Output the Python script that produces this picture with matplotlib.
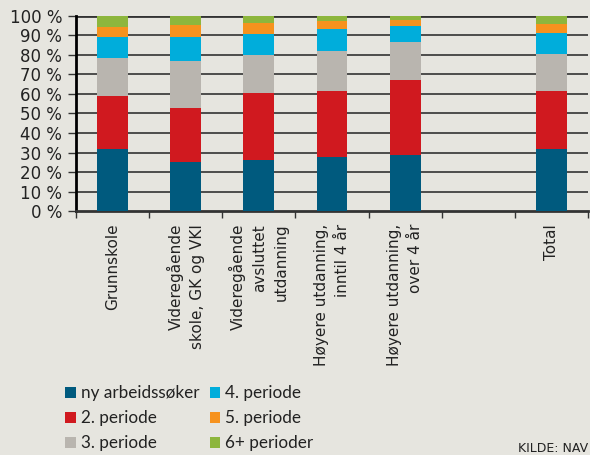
import matplotlib.pyplot as plt
from matplotlib.font_manager import FontProperties
import numpy as np

# kategorier (tom plass mellom siste kategori og Total)
kategorier = ['Grunnskole', 'Videregående\nskole, GK og VKI', 'Videregående\navsluttet\nutdanning',
              'Høyere utdanning,\ninntil 4 år', 'Høyere utdanning,\nover 4 år', '', 'Total']

ny_arbeidssoker = [31.9, 25.4, 26.4, 27.8, 28.8, 0, 31.9]
periode2 = [27.0, 27.6, 34.0, 33.5, 38.3, 0, 29.6]
periode3 = [19.5, 23.8, 19.5, 20.8, 19.3, 0, 18.9]
periode4 = [10.6, 12.5, 10.9, 11.1, 8.3, 0, 10.8]
periode5 = [5.2, 5.9, 5.5, 4.1, 3.2, 0, 4.7]
periode6 = [5.8, 4.8, 3.7, 2.7, 2.1, 0, 4.1]

serier = ['ny arbeidssøker', '2. periode', '3. periode', '4. periode', '5. periode', '6+ perioder']
farger = ['#005A7E', '#D0191F', '#B9B5AF', '#00ADDB', '#F6921E', '#8DB63D']
bg = '#E6E5DF'

fig = plt.figure(figsize=(5.9, 4.55), dpi=100, facecolor=bg)
ax = fig.add_axes([76/590, 1-211.3/455, 512/590, 195.6/455], facecolor=bg)

x = np.arange(len(kategorier))
bunn = np.zeros(len(kategorier))
verdier = [ny_arbeidssoker, periode2, periode3, periode4, periode5, periode6]
for v, navn, f in zip(verdier, serier, farger):
    ax.bar(x, v, width=0.42, bottom=bunn, color=f, label=navn, zorder=3)
    bunn += np.array(v)

ax.set_xlim(-0.5, len(kategorier) - 0.5)
ax.set_ylim(0, 100)
ax.set_yticks(range(0, 101, 10))
ax.set_yticklabels([f'{t} %' for t in range(0, 101, 10)], fontsize=12, color='#222222')
for t in range(10, 101, 10):
    ax.axhline(t, color='#333333', lw=1.2 if t < 100 else 2, zorder=1)

ax.set_xticks(np.arange(len(kategorier) + 1) - 0.5, minor=True)
ax.set_xticks(x)
ax.set_xticklabels(kategorier, rotation=90, fontsize=11, va='top', ha='center',
                   multialignment='right', color='#222222', linespacing=1.5)
ax.tick_params(axis='x', which='major', length=0, pad=9)
ax.tick_params(axis='x', which='minor', length=5, width=1, color='#333333', direction='out')
ax.tick_params(axis='y', length=6, width=1, color='#333333', pad=4)

for s in ['top', 'right']:
    ax.spines[s].set_visible(False)
ax.spines['left'].set_linewidth(2)
ax.spines['bottom'].set_linewidth(2)
ax.spines['bottom'].set_color('#333333')

handles, labels = ax.get_legend_handles_labels()
fp = FontProperties(family=['Lato', 'DejaVu Sans'], size=12.3)
fig.legend(handles, labels, loc='upper left', bbox_to_anchor=(50/590, 1-370/455), ncol=2,
           frameon=False, prop=fp, handlelength=0.6, handleheight=0.6, handletextpad=0.3,
           columnspacing=0.6, labelspacing=0.52, labelcolor='#222222')

fig.text(588/590, 1-452/455, 'KILDE: NAV', fontsize=9, color='#222222', va='baseline', ha='right')

fig.savefig('out.png', dpi=100, facecolor=bg)
